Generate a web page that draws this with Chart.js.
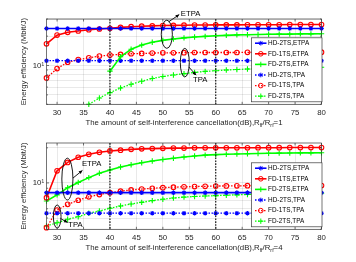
<!DOCTYPE html>
<html><head><meta charset="utf-8">
<script src="https://cdn.jsdelivr.net/npm/chart.js@4.4.1/dist/chart.umd.min.js"></script>
<style>
html,body{margin:0;padding:0;background:#fff;}
#wrap{position:relative;width:356px;height:262px;overflow:hidden;}
canvas{position:absolute;left:0;}
</style></head><body>
<div id="wrap">
<canvas id="c1" width="356" height="131" style="top:0"></canvas>
<canvas id="c2" width="356" height="131" style="top:131px"></canvas>
</div>
<script>
// ---------- data ----------
const xTicks = [30,35,40,45,50,55,60,65,70,75,80];
const xAll = [28,30,32,34,36,38,40,42,44,46,48,50,52,54,56,58,60,62,64,66,68,70,72,74,76,78,80];
const xFrom36 = [36,38,40,42,44,46,48,50,52,54,56,58,60,62,64,66,68,70,72,74,76,78,80];
const xFrom40 = [40,42,44,46,48,50,52,54,56,58,60,62,64,66,68,70,72,74,76,78,80];
const refLines = [40, 60];
const seriesNames = ['HD-2TS,ETPA','FD-1TS,ETPA','FD-2TS,ETPA','HD-2TS,TPA','FD-1TS,TPA','FD-2TS,TPA'];
const topYTicks = [4,5,6,7,8,9,10,20,30];
const botYTicks = [4,5,6,7,8,9,10,20];
const yTitle = 'Energy efficiency (Mbit/J)';
const xTitleTop = [['The amount of self-interference cancellation(dB),R',0],['ff',1],['/R',0],['rf',1],['=1',0]];
const xTitleBot = [['The amount of self-interference cancellation(dB),R',0],['ff',1],['/R',0],['rf',1],['=4',0]];

// top subplot (R_ff/R_rf = 1)
const topHdEtpa  = [24.0,24.0,24.0,24.0,24.0,24.0,24.0,24.0,24.0,24.0,24.0,24.0,24.0,24.0,24.0,24.0,24.0,24.0,24.0,24.0,24.0,24.0,24.0,24.0,24.0,24.0,24.0];
const topFd1Etpa = [16.7,20.5,21.9,22.6,23.3,23.7,24.1,24.6,25.0,25.3,25.5,25.7,25.8,25.9,26.0,26.0,26.1,26.1,26.1,26.2,26.2,26.2,26.2,26.3,26.3,26.3,26.3];
const topFd2Etpa = [8.75,12.3,14.7,16.2,17.3,18.1,18.7,19.2,19.6,19.9,20.2,20.4,20.6,20.7,20.8,20.9,21.0,21.0,21.1,21.1,21.2];
const topHdTpa   = [11.2,11.2,11.2,11.2,11.2,11.2,11.2,11.2,11.2,11.2,11.2,11.2,11.2,11.2,11.2,11.2,11.2,11.2,11.2,11.2,11.2,11.2,11.2,11.2,11.2,11.2,11.2];
const topFd1Tpa  = [7.46,9.3,10.8,11.5,12.0,12.5,12.8,13.0,13.2,13.3,13.4,13.5,13.5,13.55,13.6,13.6,13.6,13.6,13.6,13.65,13.65,13.65,13.65,13.65,13.7,13.7,13.7];
const topFd2Tpa  = [4.0,4.64,5.27,5.88,6.42,6.9,7.35,7.7,8.0,8.25,8.5,8.7,8.85,9.0,9.1,9.2,9.3,9.35,9.4,9.45,9.5,9.55,9.6];

// bottom subplot (R_ff/R_rf = 4)
const botHdEtpa  = [8.25,8.25,8.25,8.25,8.25,8.25,8.25,8.25,8.25,8.25,8.25,8.25,8.25,8.25,8.25,8.25,8.25,8.25,8.25,8.25,8.25,8.25,8.25,8.25,8.25,8.25,8.25];
const botFd1Etpa = [7.47,12.7,15.0,16.6,17.6,18.3,18.8,19.1,19.4,19.6,19.7,19.8,19.9,19.9,20.0,20.0,20.0,20.0,20.0,20.0,20.05,20.05,20.05,20.1,20.1,20.1,20.1];
const botFd2Etpa = [7.0,7.9,9.1,10.1,11.1,12.1,12.9,13.7,14.3,14.9,15.4,15.9,16.3,16.7,17.0,17.3,17.5,17.6,17.7,17.8,17.9,17.95,18.0,18.05,18.1,18.1,18.15];
const botHdTpa   = [5.5,5.5,5.5,5.5,5.5,5.5,5.5,5.5,5.5,5.5,5.5,5.5,5.5,5.5,5.5,5.5,5.5,5.5,5.5,5.5,5.5,5.5,5.5,5.5,5.5,5.5,5.5];
const botFd1Tpa  = [4.13,5.85,6.55,7.1,7.6,7.95,8.25,8.5,8.7,8.85,9.0,9.1,9.2,9.25,9.3,9.35,9.4,9.42,9.44,9.46,9.48,9.5,9.5,9.5,9.5,9.5,9.5];
const botFd2Tpa  = [4.27,4.55,4.88,5.13,5.49,5.74,6.06,6.34,6.59,6.81,7.05,7.25,7.42,7.55,7.65,7.72,7.78,7.84,7.9,7.95,8.0,8.03,8.06,8.09,8.11,8.13,8.15];

// annotations (data coordinates)
const topEllipses = [{x1:49.7,x2:51.8,y1:15.0,y2:29.2},{x1:53.3,x2:55.0,y1:7.63,y2:15.0}];
const topArrows = [{x1:51.1,y1:28.1,x2:53.1,y2:33.3},{x1:54.9,y1:9.67,x2:56.3,y2:7.96}];
const topNotes = [{t:'ETPA',x:53.4,y:34.2},{t:'TPA',x:55.7,y:7.15}];
const botEllipses = [{x1:30.9,x2:33.0,y1:7.14,y2:16.3},{x1:29.3,x2:30.75,y1:4.09,y2:6.47}];
const botArrows = [{x1:33.0,y1:11.0,x2:34.8,y2:12.8},{x1:30.66,y1:4.95,x2:32.0,y2:4.57}];
const botNotes = [{t:'ETPA',x:34.7,y:14.7},{t:'TPA',x:32.1,y:4.36}];

// ---------- styles ----------
const FAMILY = "'Liberation Sans', Arial, sans-serif";
const styles = [
  {color:'#0000ff', dash:[], point:'star', r:2.3},
  {color:'#ff0000', dash:[], point:'circle', r:2.3},
  {color:'#00ff00', dash:[], point:'cross', r:2.7},
  {color:'#0000ff', dash:[1.5,1.5], point:'star', r:2.3},
  {color:'#ff0000', dash:[1.5,1.5], point:'circle', r:2.3},
  {color:'#00ff00', dash:[1.5,1.5], point:'cross', r:2.7}
];
const GRID = 'rgba(38,38,38,0.13)';
const TXT = '#262626';

function drawRich(ctx, parts, cx, cy, size) {
  let total = 0;
  const ws = parts.map(p => { ctx.font = (p[1] ? size*0.68 : size) + 'px ' + FAMILY; const w = ctx.measureText(p[0]).width; total += w; return w; });
  let x = cx - total/2;
  ctx.textAlign = 'left'; ctx.textBaseline = 'middle';
  parts.forEach((p,i) => { ctx.font = (p[1] ? size*0.68 : size) + 'px ' + FAMILY; ctx.fillText(p[0], x, cy + (p[1] ? size*0.32 : 0)); x += ws[i]; });
}

function makePlugin(id, ann, xTitle, yTicks) {
  return {
    id: 'deco' + id,
    afterDatasetsDraw(chart) {
      const {ctx, chartArea:a, scales:{x, y}} = chart;
      ctx.save();
      ctx.strokeStyle = '#1a1a1a'; ctx.lineWidth = 1.2; ctx.setLineDash([1.6,1.3]);
      refLines.forEach(v => { const px = x.getPixelForValue(v); ctx.beginPath(); ctx.moveTo(px, a.top); ctx.lineTo(px, a.bottom); ctx.stroke(); });
      ctx.setLineDash([]);
      ctx.strokeStyle = '#000'; ctx.lineWidth = 0.9;
      ann.ellipses.forEach(e => {
        const l = x.getPixelForValue(e.x1), r = x.getPixelForValue(e.x2);
        const t = y.getPixelForValue(e.y2), b = y.getPixelForValue(e.y1);
        ctx.beginPath(); ctx.ellipse((l+r)/2, (t+b)/2, (r-l)/2, (b-t)/2, 0, 0, Math.PI*2); ctx.stroke();
      });
      ctx.fillStyle = '#000';
      ann.arrows.forEach(ar => {
        const x1 = x.getPixelForValue(ar.x1), y1 = y.getPixelForValue(ar.y1);
        const x2 = x.getPixelForValue(ar.x2), y2 = y.getPixelForValue(ar.y2);
        ctx.beginPath(); ctx.moveTo(x1,y1); ctx.lineTo(x2,y2); ctx.stroke();
        const ang = Math.atan2(y2-y1, x2-x1), L = 3.6, W = 1.7;
        ctx.beginPath(); ctx.moveTo(x2,y2);
        ctx.lineTo(x2 - L*Math.cos(ang) + W*Math.sin(ang), y2 - L*Math.sin(ang) - W*Math.cos(ang));
        ctx.lineTo(x2 - L*Math.cos(ang) - W*Math.sin(ang), y2 - L*Math.sin(ang) + W*Math.cos(ang));
        ctx.closePath(); ctx.fill();
      });
      ctx.font = '7.7px ' + FAMILY; ctx.textAlign = 'left'; ctx.textBaseline = 'middle'; ctx.fillStyle = '#000';
      ann.notes.forEach(n => ctx.fillText(n.t, x.getPixelForValue(n.x), y.getPixelForValue(n.y)));
      ctx.strokeStyle = '#3a3a3a'; ctx.lineWidth = 0.7;
      ctx.strokeRect(a.left, a.top, a.right-a.left, a.bottom-a.top);
      ctx.beginPath();
      xTicks.forEach(v => { const px = x.getPixelForValue(v); ctx.moveTo(px,a.bottom); ctx.lineTo(px,a.bottom-2.5); ctx.moveTo(px,a.top); ctx.lineTo(px,a.top+2.5); });
      yTicks.forEach(v => { const py = y.getPixelForValue(v); const L = v===10 ? 2.5 : 1.5; ctx.moveTo(a.left,py); ctx.lineTo(a.left+L,py); ctx.moveTo(a.right,py); ctx.lineTo(a.right-L,py); });
      ctx.stroke();
      const lw = 70.5, lh = 64, lr = a.right + 0.5, lb = a.bottom - 2.5;
      const ll = lr - lw, lt = lb - lh;
      ctx.fillStyle = '#fff'; ctx.fillRect(ll, lt, lw, lh);
      ctx.strokeStyle = '#3a3a3a'; ctx.lineWidth = 0.7; ctx.strokeRect(ll, lt, lw, lh);
      ctx.font = '6.4px ' + FAMILY; ctx.textBaseline = 'middle';
      chart.data.datasets.forEach((ds, i) => {
        const cy = lt + 5.4 + i*10.6;
        ctx.strokeStyle = ds.borderColor; ctx.lineWidth = ds.borderWidth; ctx.setLineDash(ds.borderDash);
        ctx.beginPath(); ctx.moveTo(ll+3.5, cy); ctx.lineTo(ll+15, cy); ctx.stroke();
        ctx.setLineDash([]); ctx.lineWidth = 1; ctx.fillStyle = 'rgba(0,0,0,0)';
        Chart.helpers.drawPoint(ctx, {pointStyle: ds.pointStyle, radius: ds.pointRadius, rotation: 0, borderWidth: 1}, ll+9.3, cy);
        ctx.fillStyle = '#000';
        ctx.fillText(ds.label, ll+16.6, cy);
      });
      ctx.fillStyle = TXT;
      drawRich(ctx, xTitle, (a.left+a.right)/2, a.bottom + 18.8, 7.8);
      ctx.save();
      ctx.translate(23.5, (a.top+a.bottom)/2); ctx.rotate(-Math.PI/2);
      ctx.font = '7.8px ' + FAMILY; ctx.textAlign = 'center'; ctx.textBaseline = 'middle';
      ctx.fillText(yTitle, 0, 0);
      ctx.restore();
      ctx.restore();
    }
  };
}

function buildChart(canvasId, xsList, valsList, yMin, yMax, yTicks, padTop, xAxisH, ann, xTitle) {
  const datasets = valsList.map((vals, i) => ({
    label: seriesNames[i],
    data: xsList[i].map((xv, k) => ({x: xv, y: vals[k]})),
    borderColor: styles[i].color,
    backgroundColor: 'rgba(0,0,0,0)',
    borderWidth: styles[i].dash.length ? 1.3 : 1.6,
    borderDash: styles[i].dash,
    pointStyle: styles[i].point,
    pointRadius: styles[i].r,
    pointBorderWidth: 1.1,
    pointBorderColor: styles[i].color,
    pointBackgroundColor: 'rgba(0,0,0,0)',
    tension: 0,
    clip: false
  }));
  return new Chart(document.getElementById(canvasId), {
    type: 'line',
    data: {datasets},
    options: {
      responsive: false, animation: false, devicePixelRatio: 1,
      layout: {padding: {left: 0, right: 34.5, top: padTop, bottom: 0}},
      plugins: {legend: {display: false}, tooltip: {enabled: false}},
      scales: {
        x: {type: 'linear', min: 28, max: 80,
            afterBuildTicks: s => { s.ticks = xTicks.map(v => ({value: v})); },
            afterFit: s => { s.height = xAxisH; },
            grid: {color: GRID, lineWidth: 0.8, drawTicks: false},
            border: {display: false},
            ticks: {font: {family: FAMILY, size: 7.8}, color: TXT, padding: 4, maxRotation: 0, autoSkip: false, callback: v => String(v)}},
        y: {type: 'logarithmic', min: yMin, max: yMax,
            afterBuildTicks: s => { s.ticks = yTicks.map(v => ({value: v})); },
            afterFit: s => { s.width = 46.5; },
            grid: {color: GRID, lineWidth: 0.8, drawTicks: false},
            border: {display: false},
            ticks: {font: {family: FAMILY, size: 7.8}, color: TXT, padding: 2.5, autoSkip: false, callback: v => (v === 10 ? '10\u00B9' : '')}}
      }
    },
    plugins: [makePlugin(canvasId, ann, xTitle, yTicks)]
  });
}

buildChart('c1',
  [xAll, xAll, xFrom40, xAll, xAll, xFrom36],
  [topHdEtpa, topFd1Etpa, topFd2Etpa, topHdTpa, topFd1Tpa, topFd2Tpa],
  4, 30, topYTicks, 19, 26.7,
  {ellipses: topEllipses, arrows: topArrows, notes: topNotes}, xTitleTop);

buildChart('c2',
  [xAll, xAll, xAll, xAll, xAll, xAll],
  [botHdEtpa, botFd1Etpa, botFd2Etpa, botHdTpa, botFd1Tpa, botFd2Tpa],
  4, 22, botYTicks, 12, 32.7,
  {ellipses: botEllipses, arrows: botArrows, notes: botNotes}, xTitleBot);
</script>
</body></html>
